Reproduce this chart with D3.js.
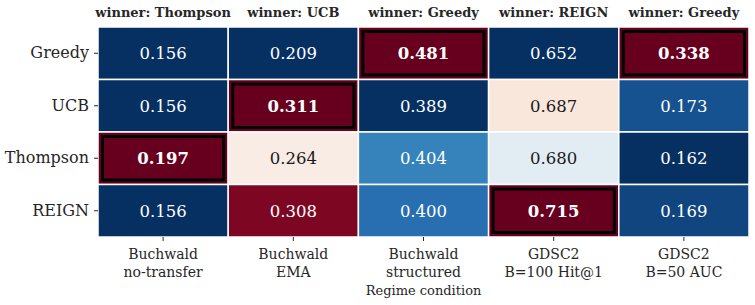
<!DOCTYPE html>
<html>
<head>
<meta charset="utf-8">
<script src="https://cdn.jsdelivr.net/npm/d3@7"></script>
<style>
  body { margin: 0; background: #fff; }
  svg text { font-family: "DejaVu Serif", serif !important; }
</style>
</head>
<body>
<svg id="chart" width="755" height="305"></svg>
<script>
const methods = ['Greedy', 'UCB', 'Thompson', 'REIGN'];
const conditions = [
  ['Buchwald', 'no-transfer'],
  ['Buchwald', 'EMA'],
  ['Buchwald', 'structured'],
  ['GDSC2', 'B=100 Hit@1'],
  ['GDSC2', 'B=50 AUC'],
];
const winners = ['Thompson', 'UCB', 'Greedy', 'REIGN', 'Greedy'];
// one array per method, values by condition
const greedyVals = [0.156, 0.209, 0.481, 0.652, 0.338];
const ucbVals = [0.156, 0.311, 0.389, 0.687, 0.173];
const thompsonVals = [0.197, 0.264, 0.404, 0.680, 0.162];
const reignVals = [0.156, 0.308, 0.400, 0.715, 0.169];
const values = [greedyVals, ucbVals, thompsonVals, reignVals];

const margin = { top: 27, right: 6, bottom: 68, left: 98 };
const width = 755;
const height = 305;

const svg = d3.select('#chart');

const x = d3
  .scaleBand()
  .domain(d3.range(conditions.length))
  .range([margin.left, width - margin.right]);
const y = d3
  .scaleBand()
  .domain(methods)
  .range([margin.top, height - margin.bottom]);

// RdBu_r, piecewise linear like matplotlib
const rdbu = ['#053061', '#2166ac', '#4393c3', '#92c5de', '#d1e5f0', '#f7f7f7',
  '#fddbc7', '#f4a582', '#d6604d', '#b2182b', '#67001f'];
const color = d3
  .scaleLinear()
  .domain(d3.range(11).map((i) => i / 10))
  .range(rdbu)
  .interpolate(d3.interpolateRgb)
  .clamp(true);

const cells = [];
methods.forEach((m, r) => {
  conditions.forEach((c, j) => {
    const col = values.map((row) => row[j]);
    const norm = d3.scaleLinear().domain(d3.extent(col)).range([0, 1]);
    cells.push({
      method: m,
      col: j,
      value: values[r][j],
      t: norm(values[r][j]),
      winner: winners[j] === m,
    });
  });
});

svg.selectAll('.cell')
  .data(cells)
  .join('rect')
  .attr('class', 'cell')
  .attr('x', (d) => x(d.col))
  .attr('y', (d) => y(d.method))
  .attr('width', x.bandwidth())
  .attr('height', y.bandwidth())
  .attr('fill', (d) => color(d.t))
  .attr('stroke', 'white')
  .attr('stroke-width', 1.5);

svg.selectAll('.win')
  .data(cells.filter((d) => d.winner))
  .join('rect')
  .attr('class', 'win')
  .attr('x', (d) => x(d.col) + 4.5)
  .attr('y', (d) => y(d.method) + 4.5)
  .attr('width', x.bandwidth() - 9)
  .attr('height', y.bandwidth() - 9)
  .attr('fill', 'none')
  .attr('stroke', 'black')
  .attr('stroke-width', 3);

svg.selectAll('.val')
  .data(cells)
  .join('text')
  .attr('class', 'val')
  .attr('x', (d) => x(d.col) + x.bandwidth() / 2)
  .attr('y', (d) => y(d.method) + y.bandwidth() / 2)
  .attr('dy', '0.36em')
  .attr('text-anchor', 'middle')
  .attr('font-size', 16.5)
  .attr('font-weight', (d) => (d.winner ? 'bold' : 'normal'))
  .attr('fill', (d) => (Math.abs(d.t - 0.5) < 0.25 ? '#1a1a1a' : 'white'))
  .text((d) => d.value.toFixed(3));

// column titles
svg.selectAll('.ctitle')
  .data(winners)
  .join('text')
  .attr('class', 'ctitle')
  .attr('x', (d, i) => x(i) + x.bandwidth() / 2)
  .attr('y', 17)
  .attr('text-anchor', 'middle')
  .attr('font-size', 13)
  .attr('font-weight', 'bold')
  .attr('fill', '#262626')
  .text((d) => `winner: ${d}`);

// left axis
const yAxis = svg
  .append('g')
  .attr('transform', `translate(${margin.left},0)`)
  .call(d3.axisLeft(y).tickSize(4).tickPadding(5));
yAxis.select('.domain').remove();
yAxis.selectAll('line').attr('stroke', '#262626');
yAxis.selectAll('text')
  .attr('font-size', 16)
  .attr('fill', '#262626');

// bottom axis
const xAxis = svg
  .append('g')
  .attr('transform', `translate(0,${height - margin.bottom})`)
  .call(d3.axisBottom(x).tickSize(4).tickFormat(''));
xAxis.select('.domain').remove();
xAxis.selectAll('line').attr('stroke', '#262626');
xAxis.selectAll('.tick')
  .append('text')
  .attr('text-anchor', 'middle')
  .attr('font-size', 14)
  .attr('fill', '#262626')
  .selectAll('tspan')
  .data((d) => conditions[d])
  .join('tspan')
  .attr('x', 0)
  .attr('y', (d, i) => 22 + i * 17.5)
  .text((d) => d);

svg.append('text')
  .attr('x', margin.left + (width - margin.right - margin.left) / 2)
  .attr('y', 295)
  .attr('text-anchor', 'middle')
  .attr('font-size', 13)
  .attr('fill', '#262626')
  .text('Regime condition');
</script>
</body>
</html>
